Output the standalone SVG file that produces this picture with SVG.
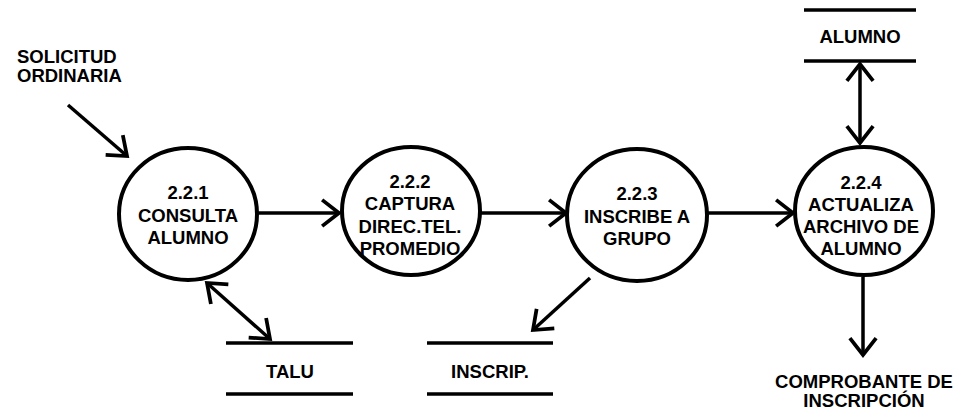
<svg xmlns="http://www.w3.org/2000/svg" width="956" height="413" viewBox="0 0 956 413">
<style>
text{font-family:"Liberation Sans",Arial,sans-serif;font-weight:bold;font-size:18.5px;fill:#000;text-anchor:middle}
.proc{fill:#fff;stroke:#000;stroke-width:4}
.store{stroke:#000;stroke-width:3.5}
.flow{fill:none;stroke:#000;stroke-width:3.5}
</style>
<defs>
<marker id="ah" markerUnits="userSpaceOnUse" markerWidth="30" markerHeight="30" refX="0" refY="0" viewBox="-22 -16 24 32" orient="auto-start-reverse" overflow="visible">
<path d="M-18,-14 L0,0 L-18,14" fill="none" stroke="#000" stroke-width="4" stroke-linejoin="miter"/>
</marker>
</defs>
<rect width="956" height="413" fill="#fff"/>
<g id="connectors">
<line class="flow" x1="68" y1="105" x2="127" y2="156" marker-end="url(#ah)"/>
<line class="flow" x1="258" y1="213" x2="339" y2="213" marker-end="url(#ah)"/>
<line class="flow" x1="481" y1="213" x2="566" y2="213" marker-end="url(#ah)"/>
<line class="flow" x1="708" y1="213" x2="793" y2="213" marker-end="url(#ah)"/>
<line class="flow" x1="863" y1="277" x2="863" y2="355" marker-end="url(#ah)"/>
<line class="flow" x1="860" y1="64" x2="860" y2="143" marker-start="url(#ah)" marker-end="url(#ah)"/>
<line class="flow" x1="207" y1="283" x2="270" y2="339" marker-start="url(#ah)" marker-end="url(#ah)"/>
<line class="flow" x1="590" y1="278" x2="533" y2="330" marker-end="url(#ah)"/>
</g>
<g id="p221">
<ellipse class="proc" cx="188" cy="214" rx="69" ry="66"/>
<text x="188" y="199">2.2.1</text>
<text x="188" y="222">CONSULTA</text>
<text x="188" y="244">ALUMNO</text>
</g>
<g id="p222">
<ellipse class="proc" cx="411" cy="211" rx="69" ry="64"/>
<text x="410" y="188">2.2.2</text>
<text x="410" y="210">CAPTURA</text>
<text x="410" y="233">DIREC.TEL.</text>
<text x="410" y="255">PROMEDIO</text>
</g>
<g id="p223">
<ellipse class="proc" cx="637" cy="215" rx="70" ry="66"/>
<text x="637" y="200">2.2.3</text>
<text x="637" y="223">INSCRIBE A</text>
<text x="637" y="245">GRUPO</text>
</g>
<g id="p224">
<ellipse class="proc" cx="864" cy="211" rx="69" ry="64"/>
<text x="861" y="189">2.2.4</text>
<text x="861" y="211">ACTUALIZA</text>
<text x="861" y="233">ARCHIVO DE</text>
<text x="861" y="255">ALUMNO</text>
</g>
<g id="alumno">
<line class="store" x1="804" y1="10" x2="916" y2="10"/>
<line class="store" x1="804" y1="61" x2="916" y2="61"/>
<text x="860" y="43">ALUMNO</text>
</g>
<g id="talu">
<line class="store" x1="226" y1="343" x2="353" y2="343"/>
<line class="store" x1="226" y1="394" x2="353" y2="394"/>
<text x="290" y="378">TALU</text>
</g>
<g id="inscrip">
<line class="store" x1="427" y1="343" x2="553" y2="343"/>
<line class="store" x1="427" y1="394" x2="553" y2="394"/>
<text x="490" y="378">INSCRIP.</text>
</g>
<g id="solicitud">
<text x="17" y="63" style="text-anchor:start">SOLICITUD</text>
<text x="17" y="82" style="text-anchor:start">ORDINARIA</text>
</g>
<g id="comprobante">
<text x="864" y="388">COMPROBANTE DE</text>
<text x="864" y="407">INSCRIPCIÓN</text>
</g>
</svg>
